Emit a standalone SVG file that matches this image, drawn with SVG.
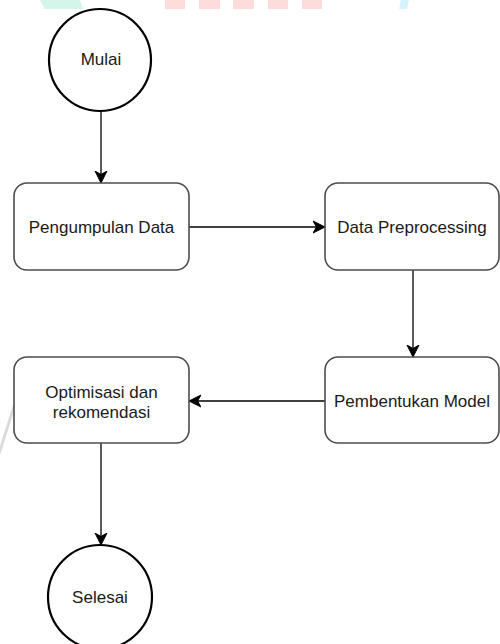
<svg xmlns="http://www.w3.org/2000/svg" width="500" height="644" viewBox="0 0 500 644">
<style>
.box{fill:#fff;stroke:#4d4d4d;stroke-width:1.6}
.term{fill:#fff;stroke:#000;stroke-width:2.2}
.lbl{font-family:"Liberation Sans",Arial,sans-serif;font-size:17px;fill:#1a1a1a;text-anchor:middle}
.edge{fill:none;stroke:#000;stroke-width:1.3}
</style>
<defs>
<marker id="arr" markerUnits="userSpaceOnUse" markerWidth="14" markerHeight="14" viewBox="0 0 14 14" refX="12" refY="7" orient="auto">
<path d="M0,1 L12,7 L0,13 L3.5,7 Z" fill="#000" stroke="#000" stroke-width="1"/>
</marker>
</defs>
<g id="watermark">
<polygon points="40,0 80,0 83,9 45,9" fill="#d5f5ea"/>
<rect x="165" y="0" width="20" height="9" fill="#ffdcdc"/>
<rect x="199" y="0" width="21" height="9" fill="#ffdcdc"/>
<rect x="233" y="0" width="21" height="9" fill="#ffdcdc"/>
<rect x="268" y="0" width="20" height="9" fill="#ffdcdc"/>
<rect x="302" y="0" width="20" height="9" fill="#ffdcdc"/>
<polygon points="401,0 409,0 407,9 399,9" fill="#d6f3fb"/>
<polygon points="0,446 13,405 16,405 0,455" fill="#d9d9d9"/>
</g>
<g id="connectors">
<line class="edge" x1="101" y1="111" x2="101" y2="183" marker-end="url(#arr)"/>
<line class="edge" x1="189" y1="227" x2="325" y2="227" marker-end="url(#arr)"/>
<line class="edge" x1="413" y1="270" x2="413" y2="357" marker-end="url(#arr)"/>
<line class="edge" x1="325" y1="401" x2="189" y2="401" marker-end="url(#arr)"/>
<line class="edge" x1="101" y1="443" x2="101" y2="545" marker-end="url(#arr)"/>
</g>
<g id="mulai">
<circle class="term" cx="100" cy="60" r="51"/>
<text class="lbl" x="101" y="65">Mulai</text>
</g>
<g id="pengumpulan">
<rect class="box" x="14" y="183" width="175" height="87" rx="13"/>
<text class="lbl" x="101.5" y="233">Pengumpulan Data</text>
</g>
<g id="preprocessing">
<rect class="box" x="325" y="183" width="174" height="87" rx="13"/>
<text class="lbl" x="412" y="233">Data Preprocessing</text>
</g>
<g id="pembentukan">
<rect class="box" x="325" y="357" width="174" height="86" rx="13"/>
<text class="lbl" x="412" y="407">Pembentukan Model</text>
</g>
<g id="optimisasi">
<rect class="box" x="14" y="357" width="175" height="86" rx="13"/>
<text class="lbl" x="101.5" y="397.5">Optimisasi dan</text>
<text class="lbl" x="101.5" y="417.5">rekomendasi</text>
</g>
<g id="selesai">
<circle class="term" cx="100" cy="597" r="52"/>
<text class="lbl" x="100" y="603">Selesai</text>
</g>
</svg>
